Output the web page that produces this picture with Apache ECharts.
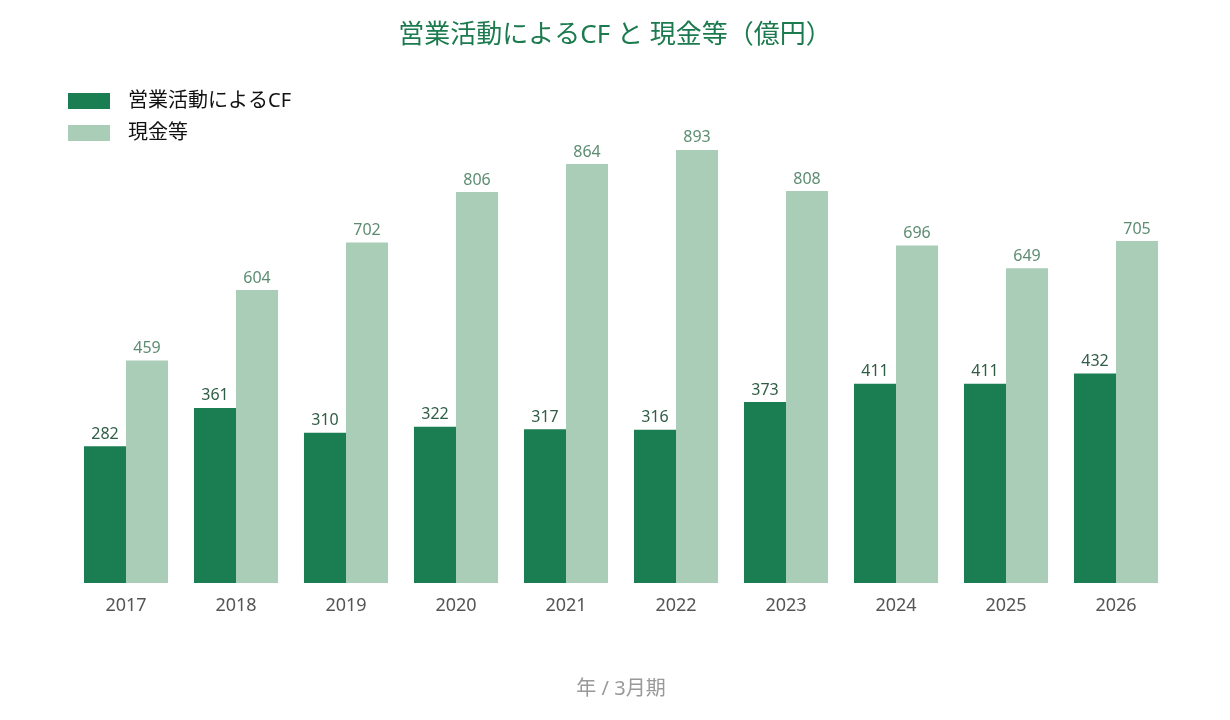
<!DOCTYPE html>
<html>
<head>
<meta charset="utf-8">
<script src="https://cdn.jsdelivr.net/npm/echarts@6/dist/echarts.min.js"></script>
<style>
  html, body { margin: 0; padding: 0; background: #fff; }
  #chart { width: 1230px; height: 720px; }
</style>
</head>
<body>
<div id="chart"></div>
<script>
const years = ['2017', '2018', '2019', '2020', '2021', '2022', '2023', '2024', '2025', '2026']
const operatingCF = [282, 361, 310, 322, 317, 316, 373, 411, 411, 432]
const cashEtc = [459, 604, 702, 806, 864, 893, 808, 696, 649, 705]
const seriesNames = ['営業活動によるCF', '現金等']

const font = '"Noto Sans", "Noto Sans CJK JP", sans-serif'
const chart = echarts.init(document.getElementById('chart'))

chart.setOption({
  textStyle: { fontFamily: font },
  title: {
    text: '営業活動によるCF と 現金等（億円）',
    left: 'center',
    top: 18,
    textStyle: { color: '#1b7a4e', fontSize: 26, fontWeight: 'normal', fontFamily: font },
  },
  legend: {
    data: seriesNames,
    orient: 'vertical',
    left: 63,
    top: 86,
    itemWidth: 42,
    itemHeight: 16,
    itemGap: 12,
    icon: 'rect',
    textStyle: { color: '#111', fontSize: 20, padding: [0, 0, 0, 13], fontFamily: font },
  },
  grid: { left: 71, right: 59, top: 98, bottom: 137 },
  xAxis: {
    type: 'category',
    data: years,
    name: '年 / 3月期',
    nameLocation: 'middle',
    nameGap: 96,
    nameTextStyle: { color: '#999', fontSize: 20, fontFamily: font },
    axisLine: { show: false },
    axisTick: { show: false },
    axisLabel: { color: '#555', fontSize: 18, margin: 14, fontFamily: font },
  },
  yAxis: {
    type: 'value',
    min: 0,
    max: 1000,
    show: false,
    splitLine: { show: false },
  },
  series: [
    {
      name: seriesNames[0],
      type: 'bar',
      data: operatingCF,
      barGap: '0%',
      barCategoryGap: '23.6%',
      itemStyle: { color: '#1b7d52' },
      label: { show: true, position: 'top', color: '#2f5d46', fontSize: 16, distance: 4, fontFamily: font },
    },
    {
      name: seriesNames[1],
      type: 'bar',
      data: cashEtc,
      barGap: '0%',
      barCategoryGap: '23.6%',
      itemStyle: { color: '#a9cdb7' },
      label: { show: true, position: 'top', color: '#5d8c72', fontSize: 16, distance: 4, fontFamily: font },
    },
  ],
})
</script>
</body>
</html>
